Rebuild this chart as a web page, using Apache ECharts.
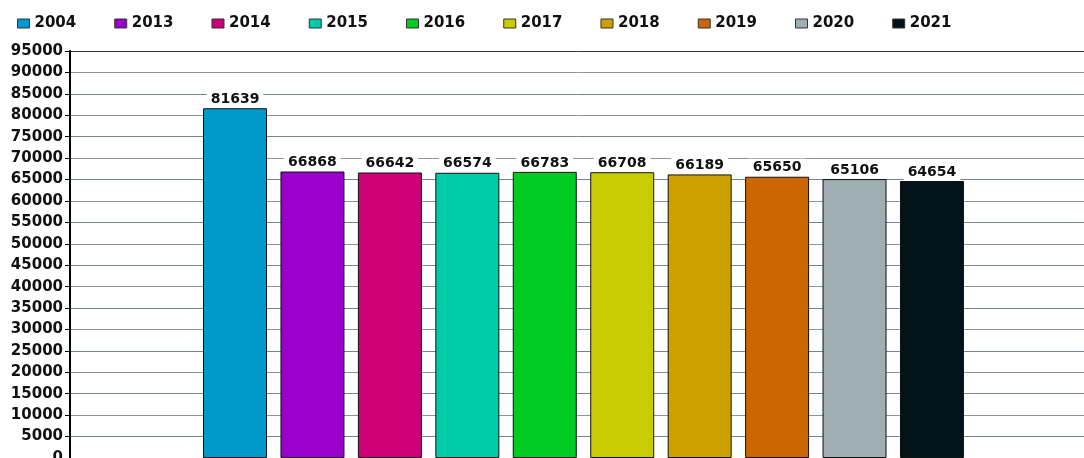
<!DOCTYPE html>
<html>
<head>
<meta charset="utf-8">
<script src="https://cdn.jsdelivr.net/npm/echarts@6/dist/echarts.min.js"></script>
<style>
html,body{margin:0;padding:0;background:#fff;}
#main{width:1084px;height:458px;}
</style>
</head>
<body>
<div id="main"></div>
<script>
var years = ['2004','2013','2014','2015','2016','2017','2018','2019','2020','2021'];
var values = [81639, 66868, 66642, 66574, 66783, 66708, 66189, 65650, 65106, 64654];
var colors = ['#0099cc','#9900cc','#cc0077','#00ccaa','#00cc22','#c8cc00','#cca000','#cc6600','#9eaeb2','#03131a'];

var chart = echarts.init(document.getElementById('main'));

// grid lines: gray-blue, top one darker
var gridColors = [];
for (var i = 0; i < 19; i++) gridColors.push(i % 2 ? '#6f8794' : '#8a969c');
gridColors.push('#333333');

var series = years.map(function (y, i) {
	return {
		name: y,
		type: 'bar',
		data: [values[i]],
		barWidth: 64,
		barGap: '21%',
		itemStyle: {
			color: colors[i],
			borderColor: '#111',
			borderWidth: 1
		},
		label: {
			show: true,
			position: 'top',
			distance: 1,
			color: '#111',
			fontWeight: 'bold',
			fontSize: 14,
			fontFamily: 'DejaVu Sans',
			backgroundColor: '#fff',
			padding: [2, 4, 1, 4]
		}
	};
});

var option = {
	animation: false,
	textStyle: { fontFamily: 'DejaVu Sans' },
	legend: {
		data: years,
		left: 12,
		top: 11,
		itemWidth: 12,
		itemHeight: 9,
		itemGap: 38,
		icon: 'rect',
		itemStyle: { borderColor: '#333', borderWidth: 1 },
		textStyle: { fontWeight: 'bold', fontSize: 15, color: '#111', fontFamily: 'DejaVu Sans' }
	},
	grid: {
		left: 70,
		right: -13,
		top: 51,
		bottom: 0,
		containLabel: false,
		outerBoundsMode: 'none'
	},
	xAxis: {
		type: 'category',
		data: [''],
		axisLine: { show: false },
		axisTick: { show: false },
		axisLabel: { show: false }
	},
	yAxis: {
		type: 'value',
		min: 0,
		max: 95000,
		interval: 5000,
		axisLine: { show: true, lineStyle: { color: '#000', width: 2 } },
		axisTick: { show: true, length: 5, lineStyle: { color: '#000' } },
		axisLabel: {
			color: '#111', fontWeight: 'bold', fontSize: 15, fontFamily: 'DejaVu Sans', margin: 7,
			formatter: function (v) { return String(v); }
		},
		splitLine: { show: true, lineStyle: { color: gridColors, width: 1 } }
	},
	series: series
};

chart.setOption(option);
</script>
</body>
</html>
